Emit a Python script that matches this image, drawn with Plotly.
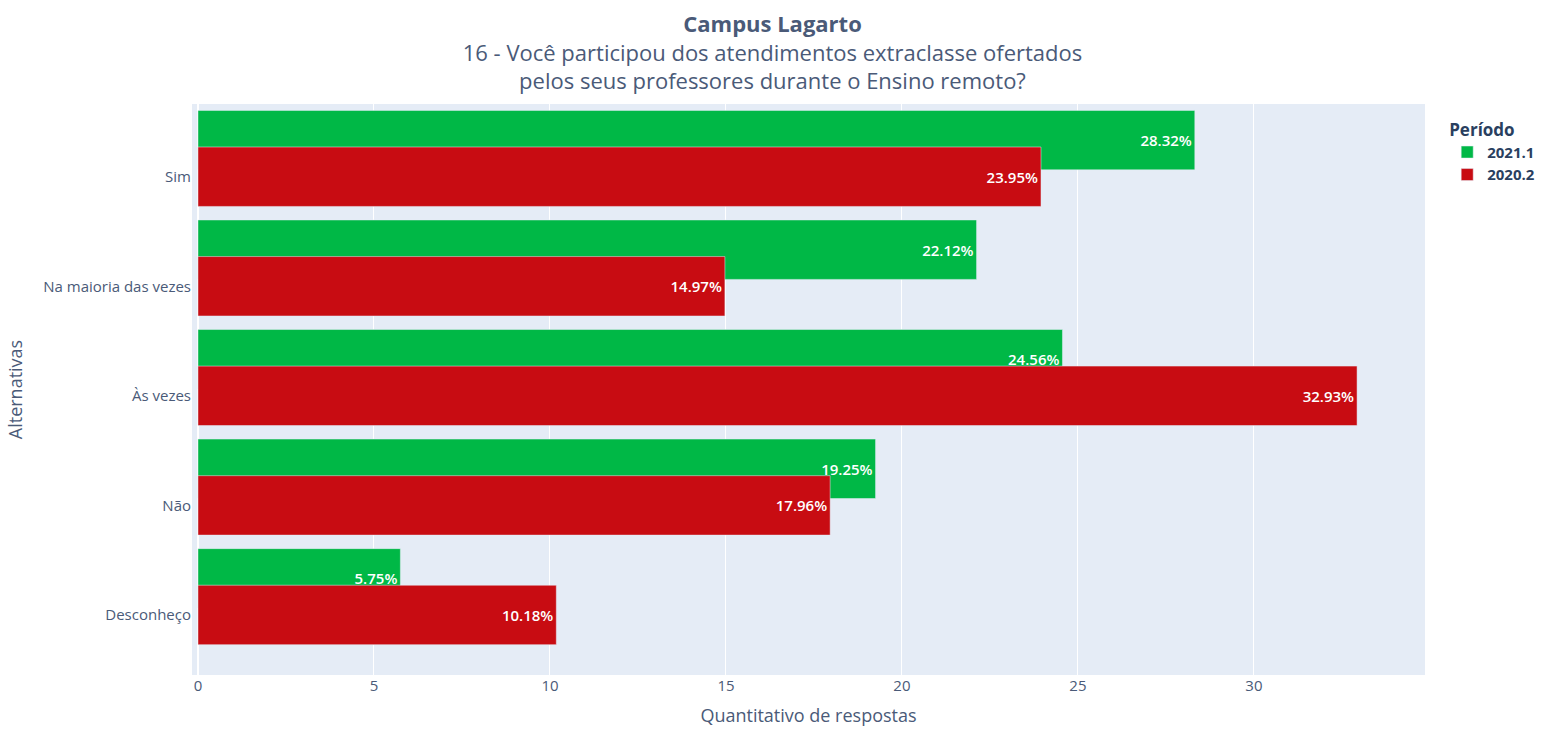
import plotly.graph_objects as go

# Answer options (top to bottom) and share of responses per period
alternativas = ["Sim", "Na maioria das vezes", "Às vezes", "Não", "Desconheço"]
periodos = ["2021.1", "2020.2"]
valores_2021_1 = [28.32, 22.12, 24.56, 19.25, 5.75]
valores_2020_2 = [23.95, 14.97, 32.93, 17.96, 10.18]
cores = {"2021.1": "#00b846", "2020.2": "#c80c12"}
# bar placement inside each category slot (offset, width)
posicao = {"2021.1": (0.063, 0.5425), "2020.2": (-0.271, 0.5425)}

fig = go.Figure()
for periodo, valores in zip(periodos, [valores_2021_1, valores_2020_2]):
    off, wid = posicao[periodo]
    fig.add_trace(go.Bar(
        name=periodo,
        x=valores,
        y=alternativas,
        orientation="h",
        offset=off,
        width=wid,
        marker=dict(color=cores[periodo], line=dict(color="#E5ECF6", width=0.5)),
        texttemplate="%{x:.2f}%",
        textposition="inside",
        insidetextanchor="end",
        textfont=dict(color="white", size=15, family="Open Sans", weight=600),
    ))

fig.update_layout(
    template="plotly",
    barmode="overlay",
    width=1545,
    height=729,
    margin=dict(l=192, r=120, t=104, b=54, autoexpand=False),
    font=dict(family="Open Sans", color="#2a3f5f"),
    title=dict(
        text="<b>Campus Lagarto</b><br>16 - Você participou dos atendimentos extraclasse ofertados"
             "<br>pelos seus professores durante o Ensino remoto?",
        x=0.5, xanchor="center", xref="container",
        y=1 - 32 / 729, yanchor="middle", yref="container",
        font=dict(size=22, color="#4a5a78"),
    ),
    legend=dict(
        title=dict(text="<b>Período</b>", font=dict(size=17)),
        font=dict(size=15, weight="bold"),
        x=1.018, y=0.983,
    ),
    xaxis=dict(
        title=dict(text="Quantitativo de respostas", font=dict(size=18, color="#4a5a78")),
        range=[-0.17, 34.86],
        tickvals=[0, 5, 10, 15, 20, 25, 30],
        tickfont=dict(size=15, color="#4a5a78"),
        zeroline=True,
    ),
    yaxis=dict(
        title=dict(text="Alternativas", font=dict(size=18, color="#4a5a78")),
        categoryorder="array",
        categoryarray=alternativas[::-1],
        range=[-0.548, 4.664],
        tickfont=dict(size=15, color="#4a5a78"),
    ),
)

fig.write_html("out.html")
